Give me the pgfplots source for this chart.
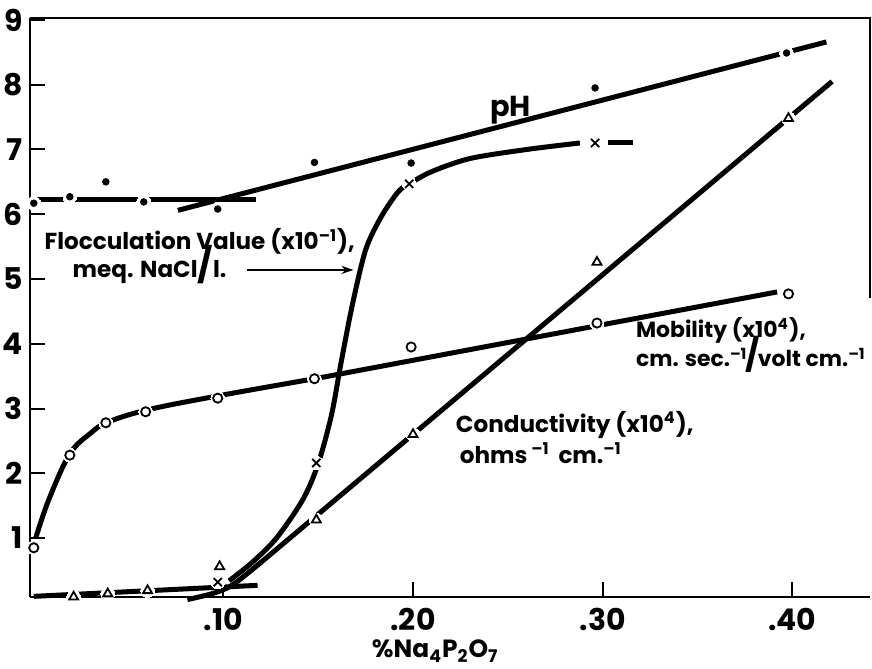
\documentclass[border=0pt]{standalone}
\usepackage{pgfplots}
\pgfplotsset{compat=1.18}
\usepackage{fontspec}
\setmainfont{Poppins}
\usetikzlibrary{arrows.meta}

\newcommand{\lbl}{\fontsize{11.6}{13}\selectfont\bfseries}
\newcommand{\mob}{\fontsize{11}{13}\selectfont\bfseries}

\begin{document}
\begin{tikzpicture}
\begin{axis}[
  scale only axis, width=420bp, height=289.5bp,
  xmin=-0.002, xmax=0.441, ymin=0.09, ymax=9.03,
  axis x line*=bottom, axis y line*=left,
  axis line style={line width=1bp, black},
  xtick={0.1,0.2,0.3,0.4}, xticklabels={.10,.20,.30,.40},
  ytick={1,2,3,4,5,6,7,8,9}, yticklabels={1,2,3,4,5,6,7,8,9},
  tick align=inside, major tick length=7.5bp,
  tick style={line width=1bp, black},
  ticklabel style={font=\fontsize{15}{15}\selectfont\bfseries},
  xticklabel style={yshift=-1bp},
  yticklabel style={xshift=1bp},
  clip=false,
  unbounded coords=jump,
  line width=2.5bp,
]
\coordinate (sw) at (rel axis cs:0,0);
\coordinate (ne) at (rel axis cs:1,1);
% top border and the short right border
\draw[line width=1bp] (rel axis cs:0,1) -- (rel axis cs:1,1) -- (axis cs:0.441,4.7);

% pH
\addplot[black] coordinates {(0.0,6.22) (0.117,6.22)};
\addplot[black] coordinates {(0.076,6.06) (0.418,8.66)};
% flocculation value
\addplot[black, smooth, tension=0.5] coordinates {
  (0.103,0.34) (0.115,0.62) (0.128,1.0) (0.142,1.6) (0.150,2.15) (0.157,2.9)
  (0.162,3.7) (0.168,4.6) (0.175,5.45) (0.183,5.95) (0.192,6.34) (0.198,6.47)
  (0.210,6.66) (0.230,6.86) (0.260,7.0) (0.288,7.1)};
\addplot[black] coordinates {(0.303,7.1) (0.316,7.1)};
% conductivity
\addplot[black] coordinates {(0.0,0.1) (0.118,0.27)};
\addplot[black, smooth] coordinates {(0.081,0.05) (0.095,0.15) (0.105,0.28) (0.120,0.63)};
\addplot[black] coordinates {(0.118,0.58) (0.421,8.05)};
% mobility
\addplot[black, smooth, tension=0.6] coordinates {
  (0.001,1.0) (0.008,1.6) (0.019,2.3) (0.030,2.62) (0.039,2.79) (0.060,2.98)
  (0.098,3.2) (0.150,3.47)};
\addplot[black] coordinates {(0.150,3.47) (0.392,4.80)};

% white gaps round the points
\addplot[only marks, mark=*, mark size=3.4bp, white, mark options={line width=0pt}] coordinates {
  (0,6.17) (0.019,6.27) (0.058,6.19) (0.097,6.08) (0.199,6.79) (0.397,8.49)
  (0.097,0.32) (0.149,2.16) (0.198,6.47) (0.296,7.1)
  (0.021,0.09) (0.039,0.14) (0.060,0.19) (0.098,0.56) (0.149,1.28) (0.200,2.6) (0.297,5.26) (0.398,7.48)
  (0.0,0.85) (0.019,2.28) (0.038,2.78) (0.059,2.95) (0.097,3.16) (0.148,3.46) (0.199,3.95) (0.297,4.32) (0.398,4.77)};

% pH points
\addplot[only marks, mark=*, mark size=1.7bp, black, mark options={line width=0.3bp}] coordinates {
  (0,6.17) (0.019,6.27) (0.038,6.5) (0.058,6.19) (0.097,6.08)
  (0.148,6.8) (0.199,6.79) (0.296,7.95) (0.397,8.49)};
% flocculation points
\addplot[only marks, mark=x, mark size=2.9bp, black, mark options={line width=0.9bp}] coordinates {
  (0.097,0.32) (0.149,2.16) (0.198,6.47) (0.296,7.1)};
% conductivity points
\addplot[only marks, mark=triangle, mark size=2.6bp, black, mark options={line width=0.9bp}] coordinates {
  (0.021,0.09) (0.039,0.14) (0.060,0.19) (0.098,0.56) (0.149,1.28) (0.200,2.6) (0.297,5.26) (0.398,7.48)};
% mobility points
\addplot[only marks, mark=o, mark size=2.3bp, black, mark options={line width=0.9bp}] coordinates {
  (0.0,0.85) (0.019,2.28) (0.038,2.78) (0.059,2.95) (0.097,3.16) (0.148,3.46) (0.199,3.95) (0.297,4.32) (0.398,4.77)};

% labels
\node[font=\fontsize{14.5}{14}\selectfont\bfseries] at (axis cs:0.2515,7.61) {pH};
\node[font=\lbl, anchor=base west, inner sep=0pt] at (axis cs:0.0044,5.45) {Flocculation Value (x10\textsuperscript{–1}),};
\node[font=\lbl, anchor=base west, inner sep=0pt] at (axis cs:0.0192,5.02) {meq. NaCl{\fontsize{17}{15}\selectfont/}l.};
\draw[line width=0.7bp, -{Stealth[length=6bp,width=4bp]}] (axis cs:0.1127,5.14) -- (axis cs:0.1686,5.14);
\node[font=\mob, anchor=west, inner sep=0pt] at (axis cs:0.3163,4.21) {Mobility (x10\textsuperscript{4}),};
\node[font=\mob, anchor=west, inner sep=0pt] at (axis cs:0.3163,3.83) {cm. sec.\textsuperscript{–1}\kern-1pt{\fontsize{16}{15}\selectfont/}\kern-1pt volt cm.\textsuperscript{–1}};
\node[font=\lbl, anchor=west, inner sep=0pt] at (axis cs:0.2213,2.75) {Conductivity (x10\textsuperscript{4}),};
\node[font=\lbl, anchor=west, inner sep=0pt] at (axis cs:0.2234,2.31) {ohms\,\textsuperscript{–1}\, cm.\textsuperscript{–1}};
\node[font=\fontsize{12.5}{13}\selectfont\bfseries] at (axis cs:0.2117,-0.75) {\%Na\textsubscript{4}P\textsubscript{2}O\textsubscript{7}};
\end{axis}
\pgfresetboundingbox
\path ([xshift=-15bp,yshift=-36bp]sw) rectangle ([xshift=1bp,yshift=9bp]ne);
\end{tikzpicture}
\end{document}
